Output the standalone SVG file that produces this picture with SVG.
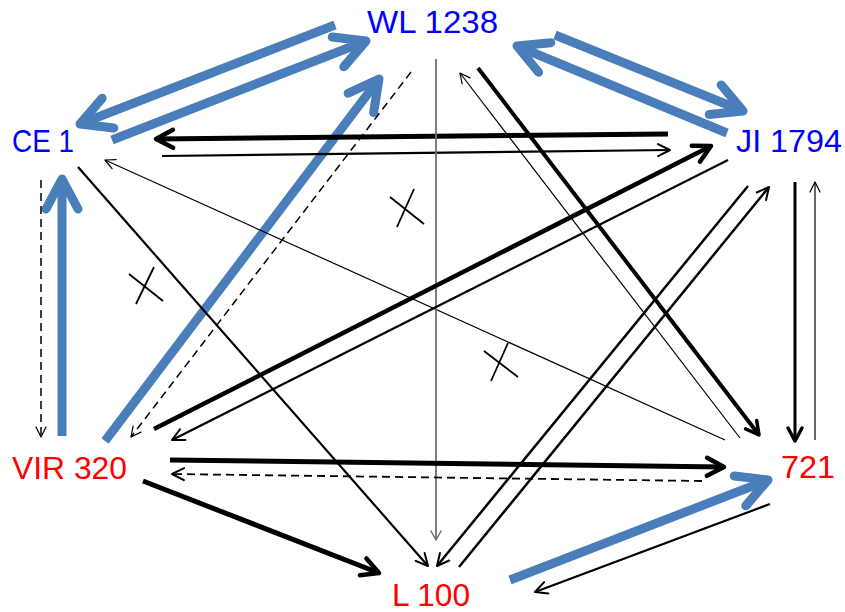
<svg xmlns="http://www.w3.org/2000/svg" width="845" height="612" viewBox="0 0 845 612">
<style>
.lbl{font-family:"Liberation Sans",Arial,sans-serif;font-size:32px}
.b{fill:#0000ff}.r{fill:#ff0000}
.bl{stroke:#4a7ebb;stroke-width:9;fill:none}
.k{stroke:#000;fill:none}
.g{stroke:#707070;fill:none;stroke-width:1.8}
.d{stroke-dasharray:8 5}
.mh{fill:none;stroke-linecap:round;stroke-linejoin:round}
</style>
<defs>
<marker id="mB" markerUnits="userSpaceOnUse" orient="auto" overflow="visible" refX="0" refY="0" markerWidth="1" markerHeight="1"><path class="mh" d="M-30,-16 L0,0 L-30,16" stroke="#4a7ebb" stroke-width="9"/></marker>
<marker id="mK" markerUnits="userSpaceOnUse" orient="auto" overflow="visible" refX="0" refY="0" markerWidth="1" markerHeight="1"><path class="mh" d="M-17,-9 L0,0 L-17,9" stroke="#000" stroke-width="4.5"/></marker>
<marker id="mKm" markerUnits="userSpaceOnUse" orient="auto" overflow="visible" refX="0" refY="0" markerWidth="1" markerHeight="1"><path class="mh" d="M-13,-7 L0,0 L-13,7" stroke="#000" stroke-width="3.5"/></marker>
<marker id="mM" markerUnits="userSpaceOnUse" orient="auto" overflow="visible" refX="0" refY="0" markerWidth="1" markerHeight="1"><path class="mh" d="M-12,-6 L0,0 L-12,6" stroke="#000" stroke-width="2"/></marker>
<marker id="mT" markerUnits="userSpaceOnUse" orient="auto" overflow="visible" refX="0" refY="0" markerWidth="1" markerHeight="1"><path class="mh" d="M-10,-5 L0,0 L-10,5" stroke="#000" stroke-width="1.2"/></marker>
<marker id="mG" markerUnits="userSpaceOnUse" orient="auto" overflow="visible" refX="0" refY="0" markerWidth="1" markerHeight="1"><path class="mh" d="M-9,-5 L0,0 L-9,5" stroke="#707070" stroke-width="1.5"/></marker>
</defs>
<g id="connectors">
<!-- blue -->
<line class="bl" x1="112" y1="140" x2="366" y2="41" marker-end="url(#mB)"/>
<line class="bl" x1="335" y1="25" x2="80" y2="124" marker-end="url(#mB)"/>
<line class="bl" x1="727" y1="133" x2="517" y2="46" marker-end="url(#mB)"/>
<line class="bl" x1="555" y1="35" x2="743" y2="111" marker-end="url(#mB)"/>
<line class="bl" x1="62" y1="436" x2="62" y2="179" marker-end="url(#mB)"/>
<line class="bl" x1="105" y1="441" x2="379" y2="79" marker-end="url(#mB)"/>
<line class="bl" x1="510" y1="580" x2="768" y2="480" marker-end="url(#mB)"/>
<!-- black -->
<line class="k" stroke-width="5" x1="668" y1="134" x2="156" y2="139" marker-end="url(#mK)"/>
<line class="k" stroke-width="2.2" x1="162" y1="156" x2="670" y2="150" marker-end="url(#mM)"/>
<line class="k" stroke-width="1.2" x1="725" y1="440" x2="105" y2="160" marker-end="url(#mT)"/>
<line class="k" stroke-width="1.2" x1="740" y1="438" x2="460" y2="73" marker-end="url(#mT)"/>
<line class="k" stroke-width="4" x1="478" y1="68" x2="759" y2="435" marker-end="url(#mKm)"/>
<line class="k" stroke-width="3" x1="795" y1="182" x2="795" y2="441" marker-end="url(#mKm)"/>
<line class="k" stroke-width="1.2" x1="815" y1="440" x2="815" y2="182" marker-end="url(#mT)"/>
<line class="g" x1="436" y1="59" x2="436" y2="540" marker-end="url(#mG)"/>
<line class="k" stroke-width="2.2" x1="78" y1="167" x2="428" y2="566" marker-end="url(#mM)"/>
<line class="k d" stroke-width="1.5" x1="411" y1="72" x2="131" y2="437" marker-end="url(#mT)"/>
<line class="k d" stroke-width="1.5" x1="41" y1="180" x2="41" y2="437" marker-end="url(#mT)"/>
<line class="k" stroke-width="4.5" x1="154" y1="429" x2="711" y2="146" marker-end="url(#mK)"/>
<line class="k" stroke-width="2.2" x1="728" y1="160" x2="172" y2="440" marker-end="url(#mM)"/>
<line class="k" stroke-width="5" x1="170" y1="460" x2="724" y2="467" marker-end="url(#mK)"/>
<line class="k d" stroke-width="1.8" x1="702" y1="481" x2="172" y2="474" marker-end="url(#mM)"/>
<line class="k" stroke-width="5" x1="143" y1="481" x2="379" y2="573" marker-end="url(#mK)"/>
<line class="k" stroke-width="2.5" x1="748" y1="186" x2="437" y2="566" marker-end="url(#mM)"/>
<line class="k" stroke-width="2.5" x1="459" y1="567" x2="769" y2="187" marker-end="url(#mM)"/>
<line class="k" stroke-width="2.2" x1="770" y1="504" x2="535" y2="592" marker-end="url(#mM)"/>
<!-- cross marks -->
<path class="k" stroke-width="1.8" d="M390,197 L424,224 M414,189 L397,227"/>
<path class="k" stroke-width="1.8" d="M484,351 L518,377 M508,343 L491,381"/>
<path class="k" stroke-width="1.8" d="M129,274 L163,301 M154,267 L136,304"/>
</g>
<g id="WL1238"><text class="lbl b" x="367" y="33" textLength="131" lengthAdjust="spacingAndGlyphs">WL 1238</text></g>
<g id="CE1"><text class="lbl b" x="12" y="152" textLength="62" lengthAdjust="spacingAndGlyphs">CE 1</text></g>
<g id="JI1794"><text class="lbl b" x="736" y="152" textLength="106" lengthAdjust="spacingAndGlyphs">JI 1794</text></g>
<g id="VIR320"><text class="lbl r" x="12" y="479" textLength="115" lengthAdjust="spacingAndGlyphs">VIR 320</text></g>
<g id="n721"><text class="lbl r" x="781" y="478" textLength="54" lengthAdjust="spacingAndGlyphs">721</text></g>
<g id="L100"><text class="lbl r" x="392" y="606" textLength="78" lengthAdjust="spacingAndGlyphs">L 100</text></g>
</svg>
